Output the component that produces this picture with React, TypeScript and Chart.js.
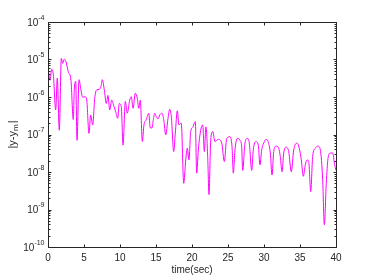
import React, { useEffect, useRef } from 'react';
import { Chart, registerables } from 'chart.js';

Chart.register(...registerables);

// ---- data ----
const timeSec = [
  0.04, 0.28, 0.51, 0.74, 1.07, 1.29, 1.57, 1.85, 2.04, 2.26, 2.5, 2.82, 3.19, 3.51, 3.65, 3.85, 4.03, 4.31, 4.54, 4.82,
  5.14, 5.38, 5.69, 5.93, 6.21, 6.49, 6.76, 7.13, 7.36, 7.54, 7.82, 8.1, 8.33, 8.57, 8.85, 9.17, 9.4, 9.68, 9.9, 10.18,
  10.42, 10.74, 11.01, 11.35, 11.57, 11.81, 12.13, 12.4, 12.6, 12.82, 13.1, 13.33, 13.65, 13.99, 14.21, 14.44, 14.63, 14.82, 15.04, 15.28,
  15.51, 15.83, 16.07, 16.35, 16.67, 16.9, 17.13, 17.46, 17.68, 17.96, 18.19, 18.51, 18.85, 19.13, 19.35, 19.58, 19.82, 20.14, 20.32, 20.46,
  20.65, 20.88, 21.21, 21.49, 21.71, 21.94, 22.18, 22.36, 22.6, 22.88, 23.19, 23.65, 24.13, 24.49, 24.82, 25.28, 25.56, 25.74, 25.97, 26.29,
  26.67, 26.9, 27.04, 27.36, 27.68, 27.96, 28.29, 28.51, 28.89, 29.21, 29.44, 29.68, 29.96, 30.28, 30.56, 30.88, 31.11, 31.35, 31.67, 32.04,
  32.26, 32.5, 32.74, 33.06, 33.43, 33.79, 34.13, 34.58, 34.9, 35.18, 35.46, 35.74, 35.97, 36.21, 36.49, 36.76, 37.13, 37.5, 37.82, 38.15,
  38.38, 38.65, 38.89, 39.21, 39.54, 39.82, 40,
];

const absError = [
  5.2e-6, 2.8e-6, 5.5e-6, 3.9e-6, 4.5e-7, 3.2e-6, 1.3e-7, 1.07e-5, 7.9e-6, 1.02e-5, 8.7e-6, 4.7e-6, 2.8e-6, 2.5e-7, 1.55e-6, 2.6e-6, 7e-8, 2.9e-6, 1.7e-6, 9.8e-7,
  1.02e-6, 8.3e-7, 1.07e-7, 3.3e-7, 1.8e-7, 9.3e-7, 1.55e-6, 1.6e-6, 1.9e-6, 2.9e-6, 1.55e-6, 6.7e-7, 1.1e-6, 4.5e-7, 8.3e-7, 5.5e-7, 4.1e-7, 2.7e-7, 6.7e-7, 5.5e-7,
  5.2e-8, 7.6e-7, 3.7e-7, 8.3e-7, 1.02e-6, 5e-7, 1.26e-6, 9.3e-7, 5e-7, 8.3e-7, 6.5e-8, 1.8e-7, 2.5e-7, 3.7e-7, 1.5e-7, 1.5e-7, 2.5e-7, 3.7e-7, 3e-7, 2.6e-7,
  3.3e-7, 3.7e-7, 2.5e-7, 9.8e-8, 2.7e-7, 4.7e-7, 3e-7, 3.5e-8, 1.07e-7, 4.3e-7, 1.8e-7, 2e-7, 5e-9, 2.1e-8, 4.3e-8, 2.1e-8, 1.2e-7, 1.6e-7, 2e-7, 2.2e-7,
  9.3e-9, 3.9e-8, 1.3e-7, 1.8e-7, 3.5e-8, 1.6e-7, 2.6e-8, 2.5e-9, 7e-8, 1.2e-7, 6.5e-8, 7.4e-8, 5.9e-8, 1.9e-8, 7.9e-8, 8.7e-8, 4.7e-8, 9.3e-9, 3.9e-8, 7.9e-8,
  7e-8, 4.7e-8, 1.1e-8, 5.9e-8, 7.9e-8, 5.9e-8, 1.1e-8, 3.9e-8, 6.5e-8, 5.2e-8, 1.55e-8, 3.9e-8, 5.9e-8, 7.4e-8, 6.5e-8, 3.2e-8, 8.3e-9, 3.5e-8, 4.9e-8, 4.3e-8,
  2.6e-8, 1.02e-8, 3.2e-8, 4.6e-8, 3.5e-8, 1.02e-8, 3.9e-8, 5.9e-8, 4.3e-8, 2.1e-8, 7.7e-9, 1.55e-8, 2.1e-8, 1.9e-8, 3e-9, 2.6e-8, 4.3e-8, 4.9e-8, 3.9e-8, 6.2e-9,
  3.9e-10, 5e-9, 2.3e-8, 3.2e-8, 3.2e-8, 1.55e-8, 1.1e-8,
];

const xTicks = [0, 5, 10, 15, 20, 25, 30, 35, 40];
const yDecadeExponents = [-4, -5, -6, -7, -8, -9, -10];
const xMin = 0;
const xMax = 40;
const yMin = 1e-10;
const yMax = 1e-4;
const xLabel = 'time(sec)';
const yLabelMain = '|y-y';
const yLabelSub = 'm';
const yLabelEnd = '|';

const AXIS_COLOR = '#262626';
const FONT = 'Liberation Sans, Arial, Helvetica, sans-serif';

const boxTicksPlugin = {
  id: 'boxTicks',
  afterDraw(chart: any) {
    const { ctx, chartArea } = chart;
    const { left, right, top, bottom } = chartArea;
    const xs = chart.scales.x;
    const ys = chart.scales.y;
    ctx.save();
    ctx.strokeStyle = AXIS_COLOR;
    ctx.lineWidth = 1;
    ctx.beginPath();
    const L = Math.round(left) + 0.5;
    const R = Math.round(right) + 0.5;
    const T = Math.round(top) + 0.5;
    const B = Math.round(bottom) + 0.5;
    ctx.rect(L, T, R - L, B - T);
    xTicks.forEach((v) => {
      const px = Math.round(xs.getPixelForValue(v)) + 0.5;
      ctx.moveTo(px, B);
      ctx.lineTo(px, B - 3);
      ctx.moveTo(px, T);
      ctx.lineTo(px, T + 3);
    });
    yDecadeExponents.forEach((e) => {
      const py = Math.round(ys.getPixelForValue(Math.pow(10, e))) + 0.5;
      ctx.moveTo(L, py);
      ctx.lineTo(L + 3, py);
      ctx.moveTo(R, py);
      ctx.lineTo(R - 3, py);
      if (e < -4) {
        for (let m = 2; m <= 9; m++) {
          const pm = Math.round(ys.getPixelForValue(m * Math.pow(10, e))) + 0.5;
          ctx.moveTo(L, pm);
          ctx.lineTo(L + 2, pm);
          ctx.moveTo(R, pm);
          ctx.lineTo(R - 2, pm);
        }
      }
    });
    ctx.stroke();

    // y tick labels: 10 with superscript exponent
    ctx.fillStyle = AXIS_COLOR;
    ctx.textBaseline = 'middle';
    const baseFont = `10px ${FONT}`;
    const expFont = `7px ${FONT}`;
    yDecadeExponents.forEach((e) => {
      const py = ys.getPixelForValue(Math.pow(10, e));
      const expText = String(e);
      ctx.font = expFont;
      const ew = ctx.measureText(expText).width;
      ctx.font = baseFont;
      const bw = ctx.measureText('10').width;
      const rightEdge = L - 4;
      ctx.textAlign = 'left';
      ctx.font = baseFont;
      ctx.fillText('10', rightEdge - ew - bw, py + 1);
      ctx.font = expFont;
      ctx.fillText(expText, rightEdge - ew, py - 4);
    });

    // y axis title with subscript m
    ctx.save();
    ctx.translate(13, (top + bottom) / 2);
    ctx.rotate(-Math.PI / 2);
    const mainFont = `11px ${FONT}`;
    const subFont = `8px ${FONT}`;
    ctx.font = mainFont;
    const w1 = ctx.measureText(yLabelMain).width;
    const w3 = ctx.measureText(yLabelEnd).width;
    ctx.font = subFont;
    const w2 = ctx.measureText(yLabelSub).width;
    const total = w1 + w2 + w3 + 1;
    let x0 = -total / 2;
    ctx.textAlign = 'left';
    ctx.textBaseline = 'middle';
    ctx.font = mainFont;
    ctx.fillText(yLabelMain, x0, 0);
    x0 += w1;
    ctx.font = subFont;
    ctx.fillText(yLabelSub, x0, 3);
    x0 += w2 + 1;
    ctx.font = mainFont;
    ctx.fillText(yLabelEnd, x0, 0);
    ctx.restore();

    ctx.restore();
  },
};

export default function App() {
  const canvasRef = useRef<HTMLCanvasElement | null>(null);

  useEffect(() => {
    document.body.style.margin = '0';
    const canvas = canvasRef.current;
    if (!canvas) return;
    const points = timeSec.map((t, i) => ({ x: t, y: absError[i] }));
    const chart = new Chart(canvas, {
      type: 'line',
      data: {
        datasets: [
          {
            data: points,
            borderColor: '#ff00ff',
            borderWidth: 1,
            pointRadius: 0,
            fill: false,
            cubicInterpolationMode: 'monotone',
          },
        ],
      },
      options: {
        animation: false,
        responsive: false,
        devicePixelRatio: 1,
        layout: { padding: { left: 0, top: 22, right: 35, bottom: 0 } },
        plugins: { legend: { display: false }, tooltip: { enabled: false } },
        scales: {
          x: {
            type: 'linear',
            min: xMin,
            max: xMax,
            afterBuildTicks: (s: any) => {
              s.ticks = xTicks.map((v) => ({ value: v }));
            },
            ticks: {
              color: AXIS_COLOR,
              font: { family: FONT, size: 10 },
              padding: 5,
              maxRotation: 0,
              autoSkip: false,
            },
            grid: { display: false, drawTicks: false },
            border: { display: false },
            title: {
              display: true,
              text: xLabel,
              color: AXIS_COLOR,
              font: { family: FONT, size: 10 },
              padding: { top: 0, bottom: 2 },
            },
            afterFit: (s: any) => {
              s.height = 31;
            },
          },
          y: {
            type: 'logarithmic',
            min: yMin,
            max: yMax,
            afterBuildTicks: (s: any) => {
              s.ticks = yDecadeExponents.map((e) => ({ value: Math.pow(10, e) }));
            },
            ticks: { display: false },
            grid: { display: false, drawTicks: false },
            border: { display: false },
            title: { display: false },
            afterFit: (s: any) => {
              s.width = 48;
            },
          },
        },
      },
      plugins: [boxTicksPlugin],
    });
    return () => chart.destroy();
  }, []);

  return (
    <div style={{ width: 371, height: 278, background: '#fff' }}>
      <canvas ref={canvasRef} width={371} height={278} style={{ display: 'block' }} />
    </div>
  );
}
